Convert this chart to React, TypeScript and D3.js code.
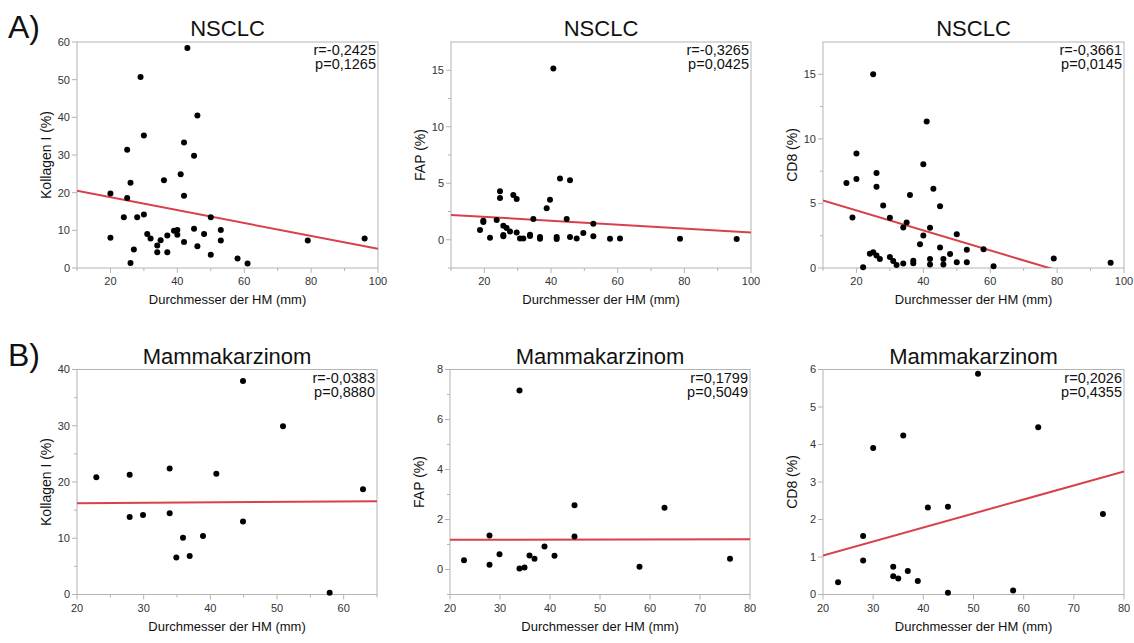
import React from "react";
import * as d3 from "d3";

// --- data (x = Durchmesser der HM in mm, y = %) ---
const nsclcKollagen: [number, number][] = [
  [20, 8.0], [20, 19.8], [24, 13.5], [25, 31.4], [25, 18.6], [26, 22.6], [26, 1.3], [27, 4.9],
  [28, 13.5], [29, 50.7], [30, 35.2], [30, 14.2], [31, 9.0], [32, 7.8], [34, 6.0], [34, 4.2],
  [35, 7.4], [36, 23.3], [37, 8.6], [37, 4.2], [39, 9.9], [40, 10.1], [40, 8.8], [41, 24.9],
  [42, 33.3], [42, 19.2], [42, 6.9], [43, 58.4], [45, 29.8], [45, 10.4], [46, 40.5], [46, 5.8],
  [48, 9.0], [50, 13.5], [50, 3.5], [53, 10.1], [53, 7.3], [58, 2.5], [61, 1.2], [79, 7.3], [96, 7.8],
];
const nsclcFap: [number, number][] = [
  [18.7, 0.86], [19.7, 1.57], [19.7, 1.69], [21.7, 0.18], [23.7, 1.75], [24.7, 4.29], [24.7, 3.7],
  [25.7, 1.24], [25.7, 0.41], [25.7, 0.3], [26.7, 1.04], [27.7, 0.74], [28.7, 3.96], [29.7, 3.61],
  [29.7, 0.65], [30.7, 0.12], [31.7, 0.12], [33.7, 0.44], [33.7, 0.33], [34.7, 1.83], [36.7, 0.24],
  [36.7, 0.09], [38.7, 2.78], [39.7, 3.55], [40.7, 15.15], [41.7, 0.24], [41.7, 0.06], [42.7, 5.41],
  [44.7, 1.83], [45.7, 5.27], [45.7, 0.24], [47.7, 0.12], [49.7, 0.59], [52.7, 1.42], [52.7, 0.3],
  [57.7, 0.09], [60.7, 0.12], [78.7, 0.09], [95.7, 0.06],
];
const nsclcCd8: [number, number][] = [
  [17, 6.58], [18.8, 3.91], [20, 8.86], [20, 6.89], [22, 0.05], [24, 1.11], [25, 1.22], [25, 15.0],
  [26, 7.36], [26, 6.3], [26, 0.96], [27, 0.7], [28, 4.84], [30, 3.89], [30, 0.85], [31, 0.54],
  [32, 0.23], [34, 3.13], [34, 0.34], [35, 3.52], [36, 5.65], [37, 0.57], [37, 0.36], [39, 1.84],
  [40, 8.03], [40, 2.51], [41, 11.35], [42, 3.11], [42, 0.7], [42, 0.28], [43, 6.14], [45, 4.79],
  [45, 1.58], [46, 0.7], [46, 0.28], [48, 1.09], [50, 2.62], [50, 0.44], [53, 1.42], [53, 0.44],
  [58, 1.45], [61, 0.13], [79, 0.73], [96, 0.41],
];
const mammaKollagen: [number, number][] = [
  [22.9, 20.86], [27.9, 21.27], [27.9, 13.78], [29.9, 14.14], [33.9, 22.4], [33.9, 14.44],
  [34.9, 6.6], [35.9, 10.1], [36.9, 6.83], [38.9, 10.4], [40.9, 21.45], [44.9, 37.97],
  [44.9, 13.0], [50.9, 29.9], [57.9, 0.3], [62.9, 18.7],
];
const mammaFap: [number, number][] = [
  [22.8, 0.37], [27.9, 1.36], [27.9, 0.19], [29.9, 0.61], [33.9, 7.16], [33.9, 0.04], [34.9, 0.08],
  [35.9, 0.56], [36.9, 0.43], [38.9, 0.92], [40.9, 0.55], [44.9, 2.57], [44.9, 1.32], [57.9, 0.11],
  [62.9, 2.47], [76, 0.43],
];
const mammaCd8: [number, number][] = [
  [23, 0.33], [28, 1.56], [28, 0.91], [30, 3.91], [34, 0.74], [34, 0.49], [35, 0.43], [36, 4.24],
  [36.9, 0.63], [38.9, 0.36], [40.9, 2.32], [44.9, 2.34], [44.9, 0.05], [50.9, 5.89], [57.9, 0.11],
  [62.9, 4.46], [75.8, 2.15],
];

// regression lines: value at the left and right end of the x domain
const fitLines: [number, number][] = [
  [20.5, 5.1], [2.2, 0.65], [5.23, -1.73],
  [16.22, 16.58], [1.19, 1.21], [1.04, 3.28],
];
const stats = [
  ["r=-0,2425", "p=0,1265"], ["r=-0,3265", "p=0,0425"], ["r=-0,3661", "p=0,0145"],
  ["r=-0,0383", "p=0,8880"], ["r=0,1799", "p=0,5049"], ["r=0,2026", "p=0,4355"],
];
const titles = ["NSCLC", "NSCLC", "NSCLC", "Mammakarzinom", "Mammakarzinom", "Mammakarzinom"];
const yLabels = ["Kollagen I (%)", "FAP (%)", "CD8 (%)", "Kollagen I (%)", "FAP (%)", "CD8 (%)"];
const xLabel = "Durchmesser der HM (mm)";

const FONT = "'Liberation Sans', Arial, Helvetica, sans-serif";
const RED = "#d8404c";
const GRID = "#b4b4b4";

interface PanelCfg {
  data: [number, number][];
  box: [number, number, number, number]; // left, right, top, bottom
  xDom: [number, number];
  yDom: [number, number];
  xMajor: number[];
  xMinor: number[];
  yMajor: number[];
  yMinor: number[];
}

const range = (a: number, b: number, s: number) => d3.range(a, b + s / 2, s);

const panels: PanelCfg[] = [
  { data: nsclcKollagen, box: [77, 378, 42, 268], xDom: [10, 100], yDom: [0, 60],
    xMajor: range(20, 100, 20), xMinor: range(10, 90, 20), yMajor: range(0, 60, 10), yMinor: [] },
  { data: nsclcFap, box: [451, 751, 42, 268], xDom: [10, 100], yDom: [-2.5, 17.5],
    xMajor: range(20, 100, 20), xMinor: range(10, 90, 20), yMajor: [0, 5, 10, 15], yMinor: [-2.5, 2.5, 7.5, 12.5] },
  { data: nsclcCd8, box: [823, 1124, 42, 268], xDom: [10, 100], yDom: [0, 17.5],
    xMajor: range(20, 100, 20), xMinor: range(10, 90, 20), yMajor: [0, 5, 10, 15], yMinor: [2.5, 7.5, 12.5] },
  { data: mammaKollagen, box: [77, 377, 369.5, 594.5], xDom: [20, 65], yDom: [0, 40],
    xMajor: range(20, 60, 10), xMinor: range(25, 65, 10), yMajor: range(0, 40, 10), yMinor: range(5, 35, 10) },
  { data: mammaFap, box: [450, 750, 369.5, 594.5], xDom: [20, 80], yDom: [-1, 8],
    xMajor: range(20, 80, 10), xMinor: [], yMajor: range(0, 8, 2), yMinor: range(-1, 7, 2) },
  { data: mammaCd8, box: [823, 1124, 369.5, 594.5], xDom: [20, 80], yDom: [0, 6],
    xMajor: range(20, 80, 10), xMinor: [], yMajor: range(0, 6, 1), yMinor: [] },
];

function Panel({ cfg, i }: { cfg: PanelCfg; i: number }) {
  const [l, r, t, b] = cfg.box;
  const x = d3.scaleLinear().domain(cfg.xDom).range([l, r]);
  const y = d3.scaleLinear().domain(cfg.yDom).range([b, t]);
  const fit = fitLines[i];
  const line = d3.line<[number, number]>().x((d) => x(d[0])).y((d) => y(d[1]));
  const fitPts: [number, number][] = [[cfg.xDom[0], fit[0]], [cfg.xDom[1], fit[1]]];
  const cx = (l + r) / 2;
  const clipId = `clip${i}`;

  return (
    <g>
      <defs>
        <clipPath id={clipId}>
          <rect x={l} y={t} width={r - l} height={b - t} />
        </clipPath>
      </defs>
      <text x={cx} y={t - 6} textAnchor="middle" fontSize={22} fill="#111">{titles[i]}</text>
      <rect x={l} y={t} width={r - l} height={b - t} fill="none" stroke={GRID} strokeWidth={1} />

      {cfg.yMajor.map((v) => (
        <g key={"ym" + v}>
          <line x1={l - 5} x2={l} y1={y(v)} y2={y(v)} stroke={GRID} />
          <text x={l - 7} y={y(v)} dy="0.35em" textAnchor="end" fontSize={11} fill="#333">{v}</text>
        </g>
      ))}
      {cfg.yMinor.map((v) => (
        <line key={"yn" + v} x1={l - 3} x2={l} y1={y(v)} y2={y(v)} stroke={GRID} />
      ))}
      {cfg.xMajor.map((v) => (
        <g key={"xm" + v}>
          <line x1={x(v)} x2={x(v)} y1={b} y2={b + 5} stroke={GRID} />
          <text x={x(v)} y={b + 17} textAnchor="middle" fontSize={11} fill="#333">{v}</text>
        </g>
      ))}
      {cfg.xMinor.map((v) => (
        <line key={"xn" + v} x1={x(v)} x2={x(v)} y1={b} y2={b + 3} stroke={GRID} />
      ))}

      <text x={cx} y={b + 36} textAnchor="middle" fontSize={13} fill="#111">{xLabel}</text>
      <text transform={`translate(${l - 26},${(t + b) / 2}) rotate(-90)`} textAnchor="middle"
        fontSize={14} fill="#111">{yLabels[i]}</text>

      <g clipPath={`url(#${clipId})`}>
        <path d={line(fitPts) ?? ""} fill="none" stroke={RED} strokeWidth={2} />
      </g>
      {cfg.data.map((d, k) => (
        <circle key={k} cx={x(d[0])} cy={y(d[1])} r={3} fill="#000" />
      ))}

      <text x={r - 2} y={t + 13} textAnchor="end" fontSize={14.5} fill="#111">{stats[i][0]}</text>
      <text x={r - 2} y={t + 27} textAnchor="end" fontSize={14.5} fill="#111">{stats[i][1]}</text>
    </g>
  );
}

export default function App() {
  return (
    <svg width={1134} height={643} style={{ position: "absolute", left: 0, top: 0, background: "#fff" }}
      fontFamily={FONT}>
      <text x={8} y={38} fontSize={32} fill="#111">A)</text>
      <text x={8} y={366} fontSize={32} fill="#111">B)</text>
      {panels.map((p, i) => (
        <Panel key={i} cfg={p} i={i} />
      ))}
    </svg>
  );
}
